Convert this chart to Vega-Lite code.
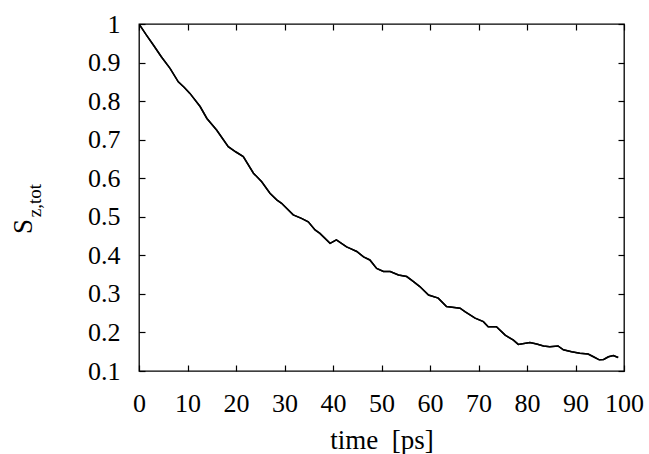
{
  "$schema": "https://vega.github.io/schema/vega-lite/v6.json",
  "width": 485,
  "height": 347,
  "autosize": {"type": "none"},
  "padding": {"left": 139, "top": 24, "right": 25, "bottom": 83},
  "background": "white",
  "config": {
    "view": {"stroke": "black", "strokeWidth": 1.3},
    "font": "Liberation Serif",
    "axis": {
      "grid": false,
      "domain": false,
      "tickColor": "black",
      "tickWidth": 1.2,
      "tickSize": -6,
      "labelColor": "black",
      "labelFont": "Liberation Serif",
      "labelFontSize": 26,
      "titleFont": "Liberation Serif",
      "titleColor": "black",
      "titleFontWeight": "normal"
    }
  },
  "data": {
    "values": [
      {"t": 0, "s": 1.0},
      {"t": 1.5, "s": 0.972},
      {"t": 2.96, "s": 0.9455},
      {"t": 4.6, "s": 0.915},
      {"t": 6.4, "s": 0.885},
      {"t": 8.1, "s": 0.85},
      {"t": 9.3, "s": 0.836},
      {"t": 10.5, "s": 0.82},
      {"t": 12.6, "s": 0.786},
      {"t": 14.0, "s": 0.755},
      {"t": 16.0, "s": 0.725},
      {"t": 18.4, "s": 0.682},
      {"t": 20.0, "s": 0.668},
      {"t": 21.5, "s": 0.656},
      {"t": 23.6, "s": 0.613},
      {"t": 25.3, "s": 0.591},
      {"t": 27.0, "s": 0.561},
      {"t": 28.4, "s": 0.544},
      {"t": 29.4, "s": 0.535},
      {"t": 31.8, "s": 0.505},
      {"t": 33.5, "s": 0.496},
      {"t": 34.9, "s": 0.487},
      {"t": 36.3, "s": 0.466},
      {"t": 37.3, "s": 0.457},
      {"t": 39.4, "s": 0.431},
      {"t": 40.7, "s": 0.44},
      {"t": 42.8, "s": 0.422},
      {"t": 43.5, "s": 0.418},
      {"t": 44.9, "s": 0.41},
      {"t": 46.3, "s": 0.396},
      {"t": 47.6, "s": 0.388},
      {"t": 49.0, "s": 0.366},
      {"t": 50.4, "s": 0.358},
      {"t": 51.8, "s": 0.358},
      {"t": 53.5, "s": 0.349},
      {"t": 55.2, "s": 0.345},
      {"t": 56.6, "s": 0.332},
      {"t": 57.9, "s": 0.319},
      {"t": 59.7, "s": 0.297},
      {"t": 61.7, "s": 0.289},
      {"t": 63.4, "s": 0.267},
      {"t": 66.2, "s": 0.263},
      {"t": 67.2, "s": 0.254},
      {"t": 69.3, "s": 0.237},
      {"t": 71.0, "s": 0.228},
      {"t": 72.0, "s": 0.215},
      {"t": 73.7, "s": 0.215},
      {"t": 75.5, "s": 0.193},
      {"t": 77.2, "s": 0.18},
      {"t": 78.2, "s": 0.169},
      {"t": 80.6, "s": 0.174},
      {"t": 82.0, "s": 0.17},
      {"t": 83.4, "s": 0.165},
      {"t": 84.7, "s": 0.163},
      {"t": 86.4, "s": 0.165},
      {"t": 87.5, "s": 0.155},
      {"t": 89.2, "s": 0.15},
      {"t": 90.9, "s": 0.146},
      {"t": 92.6, "s": 0.144},
      {"t": 93.7, "s": 0.137},
      {"t": 94.9, "s": 0.129},
      {"t": 95.8, "s": 0.13},
      {"t": 96.8, "s": 0.137},
      {"t": 97.8, "s": 0.14},
      {"t": 98.8, "s": 0.135}
    ]
  },
  "layer": [
    {
      "mark": {"type": "line", "color": "black", "strokeWidth": 1.5, "clip": true},
      "encoding": {
        "x": {
          "field": "t",
          "type": "quantitative",
          "scale": {"domain": [0, 100], "nice": false},
          "axis": {
            "orient": "bottom",
            "values": [0, 10, 20, 30, 40, 50, 60, 70, 80, 90, 100],
            "labelPadding": 25,
            "labelDx": 3,
            "labelFlush": false,
            "title": "time\u00a0\u00a0[ps]",
            "titleFontSize": 27,
            "titleY": 77,
            "titleBaseline": "alphabetic"
          }
        },
        "y": {
          "field": "s",
          "type": "quantitative",
          "scale": {"domain": [0.1, 1], "nice": false, "zero": false},
          "axis": {
            "orient": "left",
            "values": [0.1, 0.2, 0.3, 0.4, 0.5, 0.6, 0.7, 0.8, 0.9, 1],
            "format": "~g",
            "labelPadding": 25,
            "labelFlush": false,
            "title": "S",
            "titleFontSize": 27,
            "titleAngle": 270,
            "titleX": -108,
            "titleY": 202,
            "titleAlign": "center",
            "titleBaseline": "alphabetic"
          }
        }
      }
    },
    {
      "mark": {"type": "line", "color": "black", "strokeWidth": 1.5, "clip": true},
      "encoding": {
        "x": {
          "field": "t",
          "type": "quantitative",
          "axis": {
            "orient": "top",
            "values": [0, 10, 20, 30, 40, 50, 60, 70, 80, 90, 100],
            "labels": false,
            "title": null
          }
        },
        "y": {
          "field": "s",
          "type": "quantitative",
          "axis": {
            "orient": "right",
            "values": [0.1, 0.2, 0.3, 0.4, 0.5, 0.6, 0.7, 0.8, 0.9, 1],
            "labels": false,
            "title": "z,tot",
            "titleFontSize": 19,
            "titleAngle": 270,
            "titleX": -584,
            "titleY": 176,
            "titleAlign": "center",
            "titleBaseline": "alphabetic"
          }
        }
      }
    }
  ],
  "resolve": {"axis": {"x": "independent", "y": "independent"}}
}
